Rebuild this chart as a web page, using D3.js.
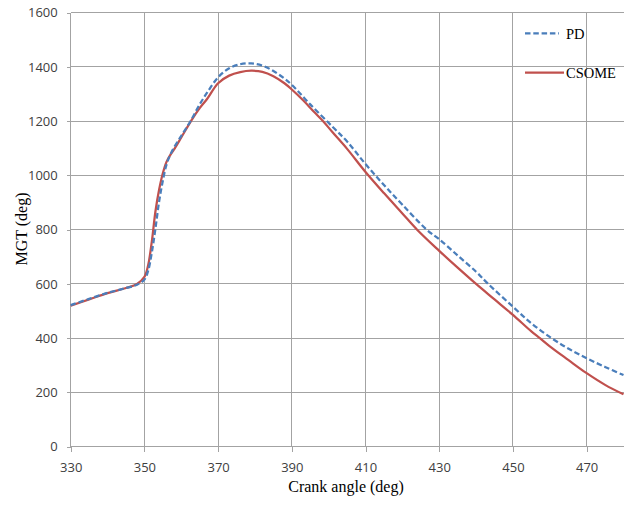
<!DOCTYPE html>
<html>
<head>
<meta charset="utf-8">
<script src="https://cdn.jsdelivr.net/npm/d3@7"></script>
<style>
  html, body { margin: 0; padding: 0; background: #fff; }
  svg { display: block; }
</style>
</head>
<body>
<svg id="chart" width="631" height="506"></svg>
<script>
// ---- data ----
const xTicks = [330, 350, 370, 390, 410, 430, 450, 470];
const yTicks = [0, 200, 400, 600, 800, 1000, 1200, 1400, 1600];

const pdAngle = [330, 335, 340, 345, 348, 350, 351, 352, 353, 354, 355, 356, 357.5, 360, 362.5, 365, 367, 370, 373, 376, 379, 382, 385, 388, 390, 395, 401, 405, 410, 415, 420, 426.6, 430, 435, 440, 443.3, 450, 455, 460.5, 465, 470, 475, 480];
const pdValue = [522, 545, 567, 585, 597, 616, 648, 715, 805, 905, 980, 1040, 1090, 1146, 1200, 1262, 1305, 1362, 1395, 1410, 1413, 1405, 1385, 1357, 1334, 1262, 1180, 1125, 1042, 965, 892, 800, 765, 705, 645, 600, 516, 455, 400, 362, 326, 294, 264];

const csAngle = [330, 335, 340, 345, 348, 350, 351, 352, 353, 354, 355, 356, 357, 358, 360, 362.8, 365, 367, 370, 373, 376, 379, 382, 385, 388, 390, 393, 396, 398.5, 401, 405, 410, 415, 420, 424, 430, 435, 440, 445, 450, 455, 457.3, 460, 465, 470, 475, 480];
const csValue = [520, 543, 566, 585, 600, 626, 668, 755, 868, 948, 1008, 1050, 1075, 1095, 1140, 1204, 1248, 1282, 1340, 1368, 1381, 1386, 1382, 1366, 1340, 1317, 1278, 1235, 1200, 1160, 1098, 1013, 935, 860, 800, 722, 660, 600, 543, 486, 425, 400, 370, 320, 271, 228, 193];

const seriesNames = ["PD", "CSOME"];
const seriesColors = ["#4A7EBB", "#C0504D"];

// ---- layout ----
const svg = d3.select("#chart");
const margin = { left: 70.7, right: 7.5, top: 12.7, bottom: 59.3 };
const W = 631, H = 506;
const x = d3.scaleLinear().domain([330, 480]).range([margin.left, W - margin.right]);
const y = d3.scaleLinear().domain([0, 1600]).range([H - margin.bottom, margin.top]);

const gridColor = "#A3A3A3";
const tickFont = "'Open Sans', 'Liberation Sans', sans-serif";
const serif = "'Liberation Serif', 'Times New Roman', serif";

// gridlines
svg.append("g").selectAll("line.h").data(yTicks.filter(d => d > 0)).join("line")
  .attr("x1", x(330)).attr("x2", x(480))
  .attr("y1", d => y(d)).attr("y2", d => y(d))
  .attr("stroke", gridColor).attr("stroke-width", 1).attr("shape-rendering", "crispEdges");
svg.append("g").selectAll("line.v").data(xTicks.filter(d => d > 330)).join("line")
  .attr("x1", d => x(d)).attr("x2", d => x(d))
  .attr("y1", y(0)).attr("y2", y(1600))
  .attr("stroke", gridColor).attr("stroke-width", 1).attr("shape-rendering", "crispEdges");

// axes
const yAxis = d3.axisLeft(y).tickValues(yTicks).tickSize(4).tickPadding(9).tickFormat(d3.format("d"));
const xAxis = d3.axisBottom(x).tickValues(xTicks).tickSize(5).tickPadding(11).tickFormat(d3.format("d"));

const gy = svg.append("g").attr("transform", `translate(${margin.left},0)`).call(yAxis);
const gx = svg.append("g").attr("transform", `translate(0,${y(0)})`).call(xAxis);
[gy, gx].forEach(g => {
  g.select(".domain").attr("stroke", gridColor).attr("stroke-width", 1).attr("shape-rendering", "crispEdges");
  g.selectAll(".tick line").attr("stroke", gridColor).attr("shape-rendering", "crispEdges");
  g.selectAll(".tick text").attr("fill", "#404040").attr("font-family", tickFont).attr("font-size", 13);
});
gy.select(".domain").attr("d", `M0,${y(1600)}V${y(0)}`);
gx.select(".domain").attr("d", `M${x(330)},0H${x(480)}`);

// lines
const line = d3.line().x(d => x(d[0])).y(d => y(d[1])).curve(d3.curveCatmullRom.alpha(0.5));
const pdData = pdAngle.map((a, i) => [a, pdValue[i]]);
const csData = csAngle.map((a, i) => [a, csValue[i]]);

svg.append("path").datum(csData).attr("d", line)
  .attr("fill", "none").attr("stroke", seriesColors[1]).attr("stroke-width", 2.25);
svg.append("path").datum(pdData).attr("d", line)
  .attr("fill", "none").attr("stroke", seriesColors[0]).attr("stroke-width", 2.25)
  .attr("stroke-dasharray", "5.5,2.8");

// legend
const legend = svg.append("g");
legend.append("line").attr("x1", 525).attr("x2", 559).attr("y1", 33.3).attr("y2", 33.3)
  .attr("stroke", seriesColors[0]).attr("stroke-width", 2.25).attr("stroke-dasharray", "5.5,2.8");
legend.append("text").attr("x", 566).attr("y", 38.5).text(seriesNames[0])
  .attr("font-family", serif).attr("font-size", 14.5).attr("fill", "#000");
legend.append("line").attr("x1", 525).attr("x2", 564).attr("y1", 72.7).attr("y2", 72.7)
  .attr("stroke", seriesColors[1]).attr("stroke-width", 2.25);
legend.append("text").attr("x", 566).attr("y", 78).text(seriesNames[1])
  .attr("font-family", serif).attr("font-size", 14.5).attr("fill", "#000");

// axis titles
svg.append("text").attr("x", 346).attr("y", 492).attr("text-anchor", "middle")
  .attr("font-family", serif).attr("font-size", 16).attr("fill", "#000")
  .text("Crank angle (deg)");
svg.append("text").attr("transform", "translate(27,229) rotate(-90)").attr("text-anchor", "middle")
  .attr("font-family", serif).attr("font-size", 16).attr("fill", "#000")
  .text("MGT (deg)");
</script>
</body>
</html>
